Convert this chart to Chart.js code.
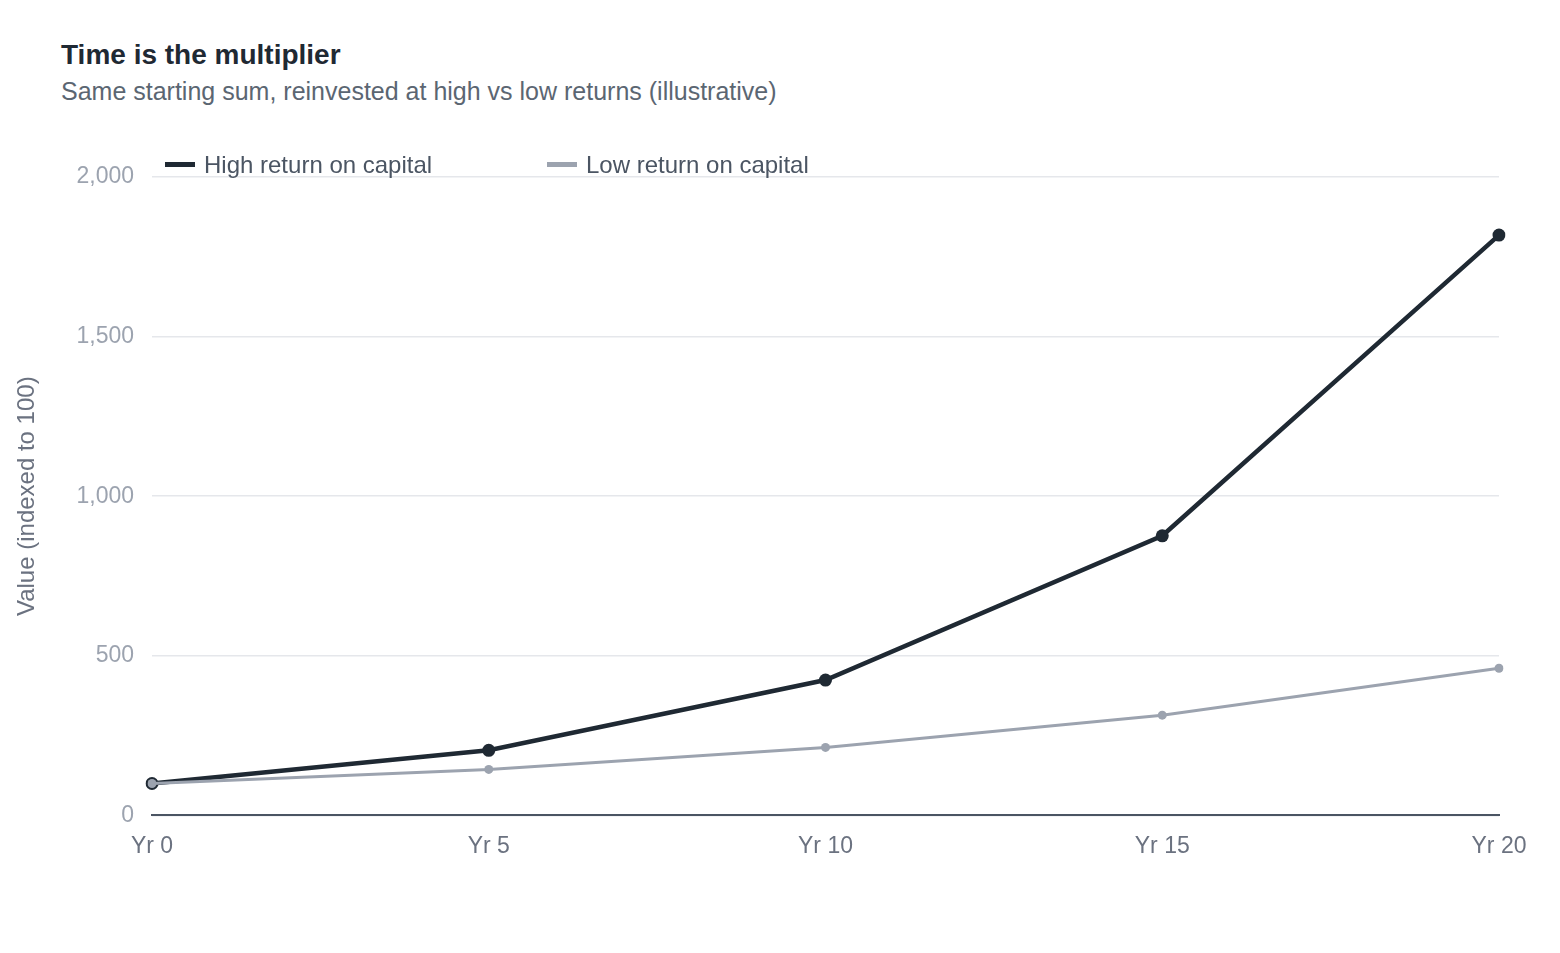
<!DOCTYPE html>
<html>
<head>
<meta charset="utf-8">
<script src="https://cdn.jsdelivr.net/npm/chart.js@4/dist/chart.umd.min.js"></script>
<style>
  body { margin: 0; background: #fff; font-family: "Liberation Sans", Arial, Helvetica, sans-serif; }
  .title { position: absolute; left: 61px; top: 38px; font-size: 28px; font-weight: bold; color: #1f2933; line-height: 34px; }
  .subtitle { position: absolute; left: 61px; top: 76px; font-size: 25px; color: #5b6672; line-height: 30px; }
  .legend { position: absolute; top: 150px; left: 0; height: 30px; z-index: 2; }
  .legend span.item { position: absolute; top: 0; white-space: nowrap; font-size: 24px; line-height: 30px; color: #4b5563; }
  .legend span.box { display: inline-block; width: 30px; height: 5px; vertical-align: middle; margin-right: 9px; position: relative; top: -2px; }
  .chart-container { position: absolute; top: 130px; left: 0; width: 1560px; height: 770px; }
</style>
</head>
<body>
  <div class="title">Time is the multiplier</div>
  <div class="subtitle">Same starting sum, reinvested at high vs low returns (illustrative)</div>
  <div class="legend" id="legend"></div>
  <div class="chart-container">
    <canvas id="growthChart"></canvas>
  </div>
<script type="text/javascript">
  const years = ["Yr 0", "Yr 5", "Yr 10", "Yr 15", "Yr 20"];
  const highReturn = [100, 204, 424, 876, 1818];
  const lowReturn = [100, 144, 213, 314, 461];
  const seriesNames = ["High return on capital", "Low return on capital"];
  const seriesColors = ["#1f2933", "#9ca3af"];

  // simple html legend, same look as the chart's
  const legendEl = document.getElementById("legend");
  const legendLeft = [165, 547];
  seriesNames.forEach(function (name, i) {
    const item = document.createElement("span");
    item.className = "item";
    item.style.left = legendLeft[i] + "px";
    item.innerHTML = '<span class="box" style="background:' + seriesColors[i] + '"></span>' + name;
    legendEl.appendChild(item);
  });

  new Chart("growthChart", {
    type: "line",
    data: {
      labels: years,
      datasets: [
        {
          label: seriesNames[0],
          data: highReturn,
          borderColor: seriesColors[0],
          backgroundColor: seriesColors[0],
          borderWidth: 4.5,
          pointRadius: 6.5,
          pointBorderWidth: 0,
          pointBackgroundColor: seriesColors[0],
          tension: 0,
          order: 1
        },
        {
          label: seriesNames[1],
          data: lowReturn,
          borderColor: seriesColors[1],
          backgroundColor: seriesColors[1],
          borderWidth: 3,
          pointRadius: 4.5,
          pointBorderWidth: 0,
          pointBackgroundColor: seriesColors[1],
          tension: 0,
          order: 0
        }
      ]
    },
    options: {
      responsive: true,
      maintainAspectRatio: false,
      animation: false,
      layout: { padding: { top: 47, right: 61, left: 10, bottom: 23 } },
      plugins: {
        legend: { display: false },
        tooltip: { enabled: false }
      },
      scales: {
        x: {
          offset: false,
          grid: { display: false, drawTicks: false },
          border: { display: true, color: "#4b5563", width: 2 },
          ticks: { color: "#6b7280", padding: 17, font: { size: 23, family: "'Liberation Sans', Arial, sans-serif" } }
        },
        y: {
          min: 0,
          max: 2000,
          ticks: { stepSize: 500, color: "#9ca3af", padding: 18, font: { size: 23, family: "'Liberation Sans', Arial, sans-serif" } },
          grid: { color: "#e5e7eb", lineWidth: 1.5, drawTicks: false },
          border: { display: false },
          title: {
            display: true,
            text: "Value (indexed to 100)",
            color: "#6b7280",
            padding: { top: 3, bottom: 30 },
            font: { size: 24, family: "'Liberation Sans', Arial, sans-serif" }
          },
          afterFit: function (scale) { scale.width = 142; }
        }
      }
    }
  });
</script>
</body>
</html>
